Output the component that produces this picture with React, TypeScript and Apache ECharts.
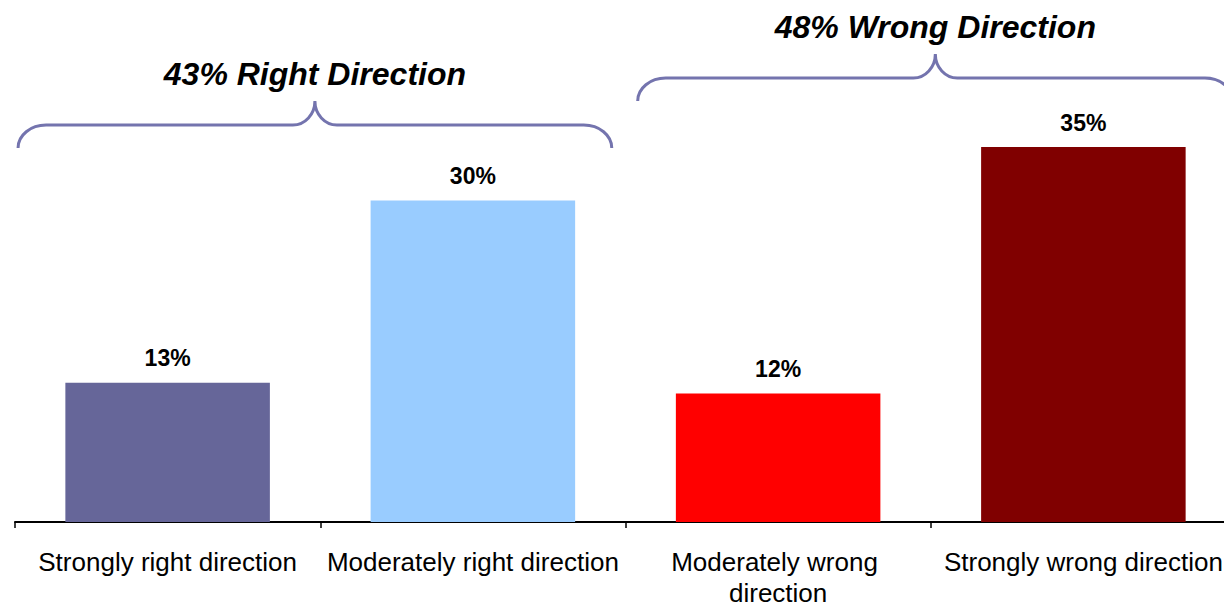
import React, { useEffect, useRef } from "react";
import * as echarts from "echarts";

const categories = [
  "Strongly right direction",
  "Moderately right direction",
  "Moderately wrong direction",
  "Strongly wrong direction",
];
const values = [13, 30, 12, 35];
const barColors = ["#666699", "#99CCFF", "#FF0000", "#800000"];
const groupTitles = ["43% Right Direction", "48% Wrong Direction"];

const FONT = '"Liberation Sans", Arial, Helvetica, sans-serif';
const BRACE_COLOR = "#7474AE";

function bracePath(x0: number, x1: number, yH: number, yTip: number, rx: number, ry: number, tw: number) {
  const k = 0.552;
  const xm = (x0 + x1) / 2;
  const th = yH - yTip;
  return [
    `M${x0},${yH + ry}`,
    `C${x0},${yH + ry - ry * k} ${x0 + rx - rx * k},${yH} ${x0 + rx},${yH}`,
    `L${xm - tw},${yH}`,
    `C${xm - tw + tw * k},${yH} ${xm},${yTip + th * k} ${xm},${yTip}`,
    `C${xm},${yTip + th * k} ${xm + tw - tw * k},${yH} ${xm + tw},${yH}`,
    `L${x1 - rx},${yH}`,
    `C${x1 - rx + rx * k},${yH} ${x1},${yH + ry - ry * k} ${x1},${yH + ry}`,
  ].join(" ");
}

export default function App() {
  const ref = useRef<HTMLDivElement>(null);

  useEffect(() => {
    if (!ref.current) return;
    const chart = echarts.init(ref.current, null, { renderer: "svg" });
    chart.setOption({
      animation: false,
      backgroundColor: "#ffffff",
      grid: {
        left: 15,
        width: 1221,
        top: 147,
        height: 375,
        containLabel: false,
        outerBoundsMode: "none",
      },
      xAxis: {
        type: "category",
        data: categories,
        axisLine: { show: true, lineStyle: { color: "#000", width: 2 } },
        axisTick: { show: true, length: 6, lineStyle: { color: "#000", width: 1.5 } },
        axisLabel: {
          color: "#000",
          fontFamily: FONT,
          fontSize: 26,
          lineHeight: 31,
          margin: 24,
          width: 296,
          overflow: "break",
          interval: 0,
        },
      },
      yAxis: { type: "value", min: 0, max: 35, show: false, splitLine: { show: false } },
      series: [
        {
          type: "bar",
          barWidth: "67%",
          data: values.map((v, i) => ({ value: v, itemStyle: { color: barColors[i] } })),
          label: {
            show: true,
            position: "top",
            distance: 13,
            formatter: "{c}%",
            color: "#000",
            fontFamily: FONT,
            fontSize: 23,
            fontWeight: "bold",
          },
        },
      ],
    });

    const cx = categories.map((c) => chart.convertToPixel({ xAxisIndex: 0 }, c) as number);
    const bw = cx[1] - cx[0];
    const braces = [
      { x0: cx[0] - 0.49 * bw, x1: cx[1] + 0.455 * bw, yH: 125, yTip: 101, title: groupTitles[0] },
      { x0: cx[2] - 0.46 * bw, x1: cx[3] + 0.49 * bw, yH: 78, yTip: 54, title: groupTitles[1] },
    ];
    const graphic: any[] = [];
    braces.forEach((b, i) => {
      const name = "brace" + i;
      echarts.graphic.registerShape(
        name,
        echarts.graphic.extendPath(bracePath(b.x0, b.x1, b.yH, b.yTip, 28, 23, 22), {}) as any
      );
      graphic.push({
        type: name,
        x: 0,
        y: 0,
        silent: true,
        style: { fill: "none", stroke: BRACE_COLOR, lineWidth: 3 },
      });
      graphic.push({
        type: "text",
        x: (b.x0 + b.x1) / 2,
        y: b.yTip - 27,
        silent: true,
        style: {
          text: b.title,
          fill: "#000",
          font: `italic bold 32px ${FONT}`,
          align: "center",
          verticalAlign: "middle",
        },
      });
    });
    chart.setOption({ graphic });

    return () => chart.dispose();
  }, []);

  return (
    <div style={{ position: "fixed", left: 0, top: 0, width: 1224, height: 605, overflow: "hidden", background: "#fff" }}>
      <div ref={ref} style={{ width: 1240, height: 605 }} />
    </div>
  );
}
